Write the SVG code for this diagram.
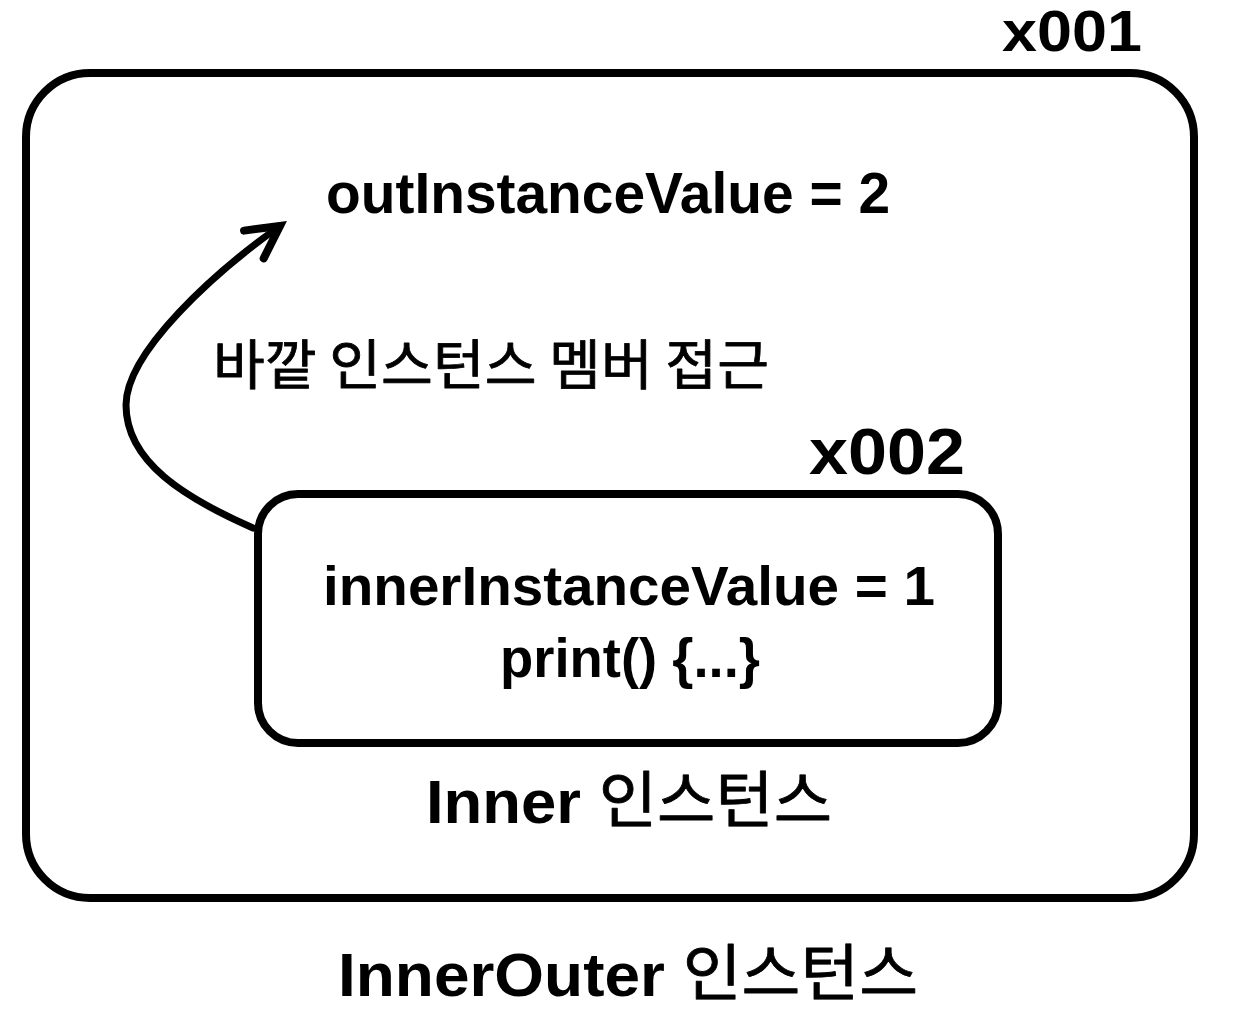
<svg xmlns="http://www.w3.org/2000/svg" width="1236" height="1033" viewBox="0 0 1236 1033">
  <style>
    .box { fill: #ffffff; stroke: #000000; stroke-width: 8; }
    .lat { font-family: "Liberation Sans", Arial, "Noto Sans CJK KR", sans-serif; font-weight: bold; fill: #000000; }
    .kr { font-family: "Noto Sans CJK KR", "Noto Sans", sans-serif; font-weight: 400; stroke: #000000; stroke-width: 0.8; stroke-linejoin: round; }
    .conn { fill: none; stroke: #000000; stroke-width: 7; stroke-linecap: round; }
  </style>
  <defs>
    <marker id="chev" markerUnits="userSpaceOnUse" viewBox="-45 -30 55 60" markerWidth="55" markerHeight="60" refX="0" refY="0" orient="auto" overflow="visible">
      <path d="M -32 -17 L 0 0 L -32 17" fill="none" stroke="#000000" stroke-width="8" stroke-linecap="round" stroke-linejoin="miter"/>
    </marker>
  </defs>
  <rect width="1236" height="1033" fill="#ffffff"/>

  <g id="outer-instance">
    <rect class="box" x="26" y="73" width="1168" height="825" rx="64" ry="64"/>
    <text class="lat" x="1002" y="51" font-size="57" textLength="140" lengthAdjust="spacingAndGlyphs">x001</text>
    <text class="lat" x="326" y="213" font-size="58" textLength="564" lengthAdjust="spacingAndGlyphs">outInstanceValue = 2</text>
    <text class="lat" x="338" y="996" font-size="62" textLength="580" lengthAdjust="spacingAndGlyphs">InnerOuter <tspan class="kr">인스턴스</tspan></text>
  </g>

  <g id="access-label">
    <text class="lat kr" x="213" y="385" font-size="54" textLength="556" lengthAdjust="spacingAndGlyphs">바깥 인스턴스 멤버 접근</text>
  </g>

  <g id="inner-instance">
    <rect class="box" x="258" y="494" width="740" height="249" rx="40" ry="40"/>
    <text class="lat" x="809" y="474" font-size="64" textLength="156" lengthAdjust="spacingAndGlyphs">x002</text>
    <text class="lat" x="323" y="605" font-size="56" textLength="612" lengthAdjust="spacingAndGlyphs">innerInstanceValue = 1</text>
    <text class="lat" x="500" y="677" font-size="56" textLength="260" lengthAdjust="spacingAndGlyphs">print() {...}</text>
    <text class="lat" x="426" y="823" font-size="62" textLength="406" lengthAdjust="spacingAndGlyphs">Inner <tspan class="kr">인스턴스</tspan></text>
  </g>

  <g id="connectors">
    <path class="conn" d="M 253 528 C 185 498 126 462 126 405 C 126 352 215 272 280 226" marker-end="url(#chev)"/>
  </g>
</svg>
